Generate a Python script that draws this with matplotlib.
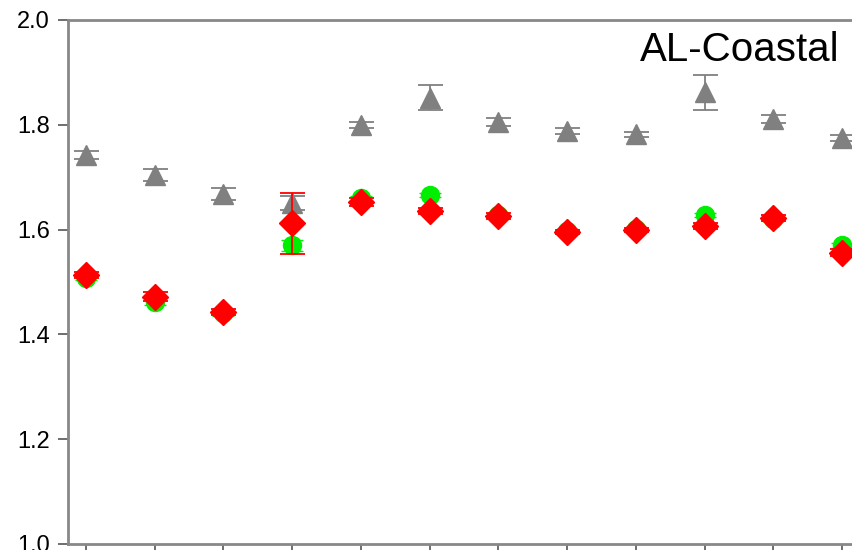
import matplotlib.pyplot as plt
import numpy as np

plt.rcParams['font.family'] = ['Liberation Sans', 'DejaVu Sans']

# data
x = np.arange(12)
gray_y = [1.742, 1.704, 1.668, 1.651, 1.800, 1.852, 1.805, 1.788, 1.782, 1.862, 1.811, 1.775]
gray_err = [0.008, 0.012, 0.012, 0.014, 0.006, 0.024, 0.008, 0.006, 0.005, 0.033, 0.008, 0.005]
green_y = [1.508, 1.462, 1.440, 1.570, 1.660, 1.666, 1.628, 1.598, 1.601, 1.628, 1.620, 1.570]
green_err = [0.004, 0.005, 0.004, 0.010, 0.005, 0.004, 0.004, 0.003, 0.003, 0.004, 0.004, 0.005]
red_y = [1.514, 1.472, 1.443, 1.612, 1.653, 1.636, 1.626, 1.596, 1.599, 1.607, 1.622, 1.556]
red_err = [0.006, 0.008, 0.006, 0.058, 0.008, 0.006, 0.006, 0.004, 0.004, 0.005, 0.005, 0.007]

fig = plt.figure(figsize=(8.53, 5.5), dpi=100)
ax = fig.add_axes([68 / 853, 6 / 550, (853 - 68) / 853 + 0.05, 524 / 550])

ax.errorbar(x, gray_y, yerr=gray_err, fmt='^', color='#808080', ms=14,
            capsize=9, elinewidth=1.3, capthick=1.3, zorder=2)
ax.errorbar(x, green_y, yerr=green_err, fmt='o', color='#00ee00', ms=13,
            capsize=8, elinewidth=1.0, capthick=1.0, zorder=3)
ax.errorbar(x, red_y, yerr=red_err, fmt='D', color='#ff0000', ms=13,
            capsize=9, elinewidth=1.3, capthick=1.3, zorder=4)

ax.set_ylim(1.0, 2.0)
ax.set_xlim(-0.26, 11.16 + 0.05 * 853 / 68.7)
ax.set_yticks([1.0, 1.2, 1.4, 1.6, 1.8, 2.0])
ax.set_yticklabels(['1.0', '1.2', '1.4', '1.6', '1.8', '2.0'], fontsize=17)
ax.set_xticks(x)
ax.set_xticklabels([])
ax.tick_params(axis='both', direction='out', length=7, width=1.2, color='#555555', pad=6)
for s in ['left', 'bottom', 'top']:
    ax.spines[s].set_color('#888888')
    ax.spines[s].set_linewidth(2)
ax.spines['right'].set_visible(False)

fig.text(840 / 853, 1 - 50 / 550, 'AL-Coastal', fontsize=29, ha='right', va='center')

fig.savefig('out.png', dpi=100)
